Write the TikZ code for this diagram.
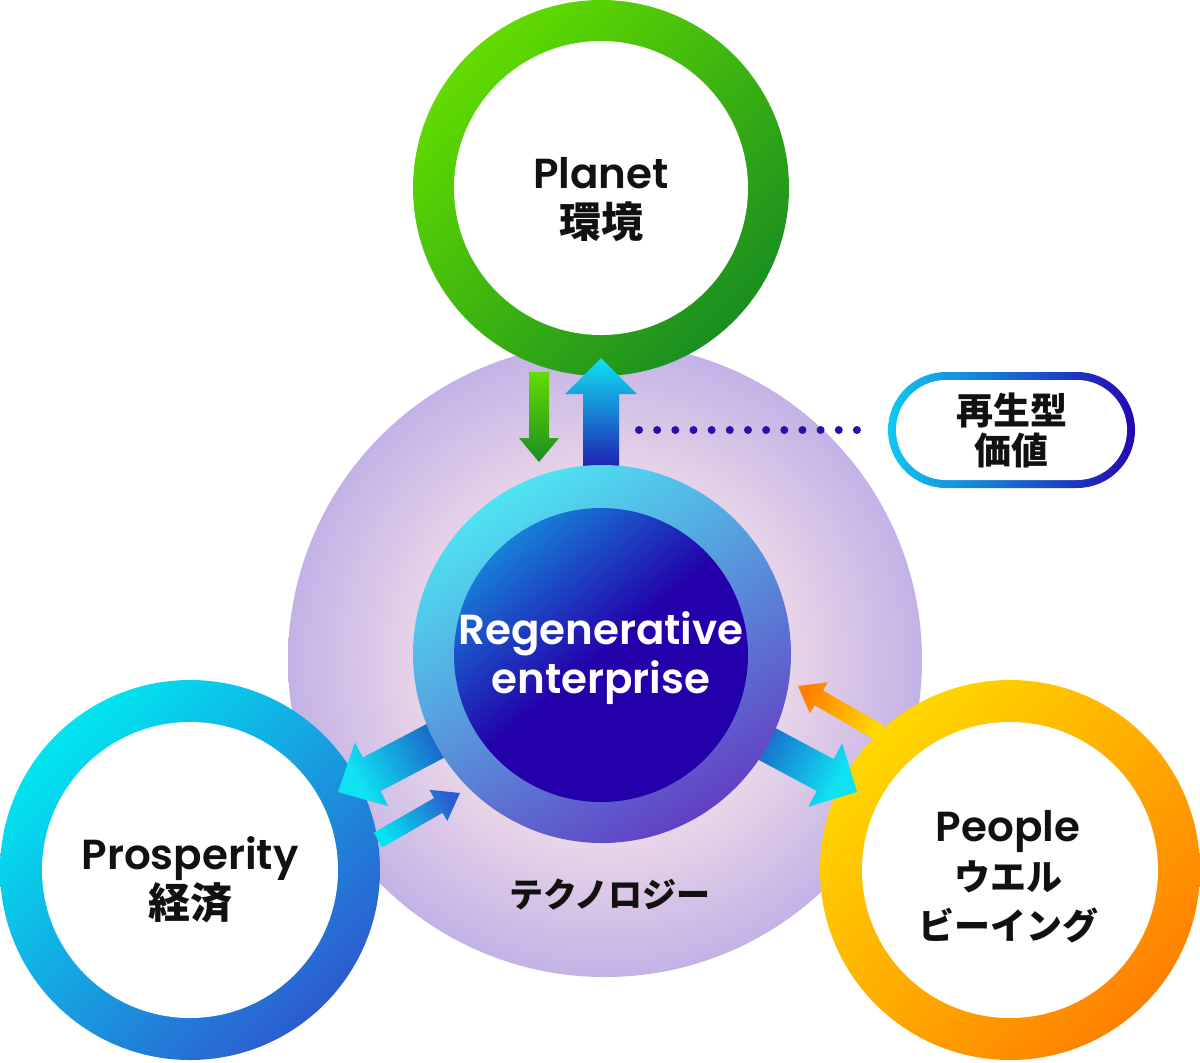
\documentclass[tikz,border=0pt]{standalone}
\usepackage{fontspec}
\setmainfont{Poppins}[BoldFont={Poppins SemiBold}]
\newfontfamily\cjk{Noto Sans CJK JP}
\usetikzlibrary{calc}
\definecolor{ink}{HTML}{111111}
\definecolor{bgin}{HTML}{F7E3EA}
\definecolor{bgmid}{HTML}{EEDAE8}
\definecolor{bgout}{HTML}{C3B2E6}
\definecolor{plA}{HTML}{62DC00}
\definecolor{plB}{HTML}{1A8E20}
\definecolor{prA}{HTML}{00E6F0}
\definecolor{prB}{HTML}{2C5CD0}
\definecolor{peA}{HTML}{FFD800}
\definecolor{peB}{HTML}{FF8000}
\definecolor{ceA}{HTML}{4EE4F2}
\definecolor{ceM}{HTML}{5C6CD0}
\definecolor{ceB}{HTML}{6240C4}
\definecolor{inA}{HTML}{1780D8}
\definecolor{inB}{HTML}{2300AA}
\definecolor{cyanA}{HTML}{10E2F2}
\definecolor{navy}{HTML}{2200A8}
\definecolor{dotc}{HTML}{2A10A8}
\definecolor{pillA}{HTML}{10C8F0}
\definecolor{pillB}{HTML}{2208B0}
\pgfdeclareradialshading{bgshade}{\pgfpoint{0bp}{0bp}}{color(0bp)=(bgin); color(13bp)=(bgmid); color(25bp)=(bgout); color(50bp)=(bgout)}
\newcommand\fatarrow[8]{%
  \path ($(#2)!#5!(#1)$) coordinate (hb);
  \shade[top color=#7, bottom color=#6, shading angle=#8]
    ($(#1)!#3!90:(#2)$) -- ($(hb)!#3!-90:(#1)$) -- ($(hb)!#4!-90:(#1)$) -- (#2)
    -- ($(hb)!#4!90:(#1)$) -- ($(hb)!#3!90:(#1)$) -- ($(#1)!#3!-90:(#2)$) -- cycle;
}
\tikzset{
  lbl/.style={font=\bfseries\fontsize{21pt}{24.5pt}\selectfont, text=ink, align=center, inner sep=0pt},
  wlbl/.style={lbl, text=white},
  pilltext/.style={font=\bfseries\fontsize{18.5pt}{20pt}\selectfont, text=ink, align=center, inner sep=0pt,
    minimum width=123.5pt, minimum height=58pt},
  techlbl/.style={font=\bfseries\fontsize{17pt}{20pt}\selectfont, text=ink, inner sep=0pt},
  dotline/.style={dotc, line width=4pt, line cap=round, dash pattern=on 0pt off 9.08pt},
  ringhole/.style={fill=white}
}
\newcommand\kanatext[1]{{\cjk\fontsize{18pt}{24.5pt}\selectfont #1}}
\begin{document}
\begin{tikzpicture}[x=0.5pt,y=-0.5pt]
\useasboundingbox (0,0) rectangle (1200,1062);
% background disc
\shade[shading=bgshade] (605,660) circle[radius=317];
% named centres
\coordinate (cPlanet) at (601,188);
\coordinate (cPros) at (190,870);
\coordinate (cPeople) at (1010,870);
\coordinate (cCore) at (602,654);
% green arrow (under ring)
\coordinate (gT) at (539,372);
\coordinate (gP) at (539,462);
\fatarrow{gT}{gP}{5pt}{10pt}{12pt}{plA}{plB}{180}
% rings
\shade[top color=plA, bottom color=plB, shading angle=45] (cPlanet) circle[radius=188];
\fill[ringhole] (cPlanet) circle[radius=147];
\shade[top color=prA, bottom color=prB, shading angle=45] (cPros) circle[radius=190];
\fill[ringhole] (cPros) circle[radius=148];
\shade[top color=peA, bottom color=peB, shading angle=45] (cPeople) circle[radius=190];
\fill[ringhole] (cPeople) circle[radius=148];
% arrows
\coordinate (uT) at (601,485);
\coordinate (uP) at (601,358);
\fatarrow{uT}{uP}{9pt}{18pt}{18pt}{navy}{cyanA}{0}
\coordinate (lbT) at (515,699);
\coordinate (lbP) at (338,792);
\fatarrow{lbT}{lbP}{9.5pt}{18pt}{19pt}{navy}{cyanA}{117.8}
\coordinate (rbT) at (681,698);
\coordinate (rbP) at (857,792);
\fatarrow{rbT}{rbP}{9pt}{18pt}{18pt}{navy}{cyanA}{-118}
\coordinate (lsT) at (378,840);
\coordinate (lsP) at (460,793);
\fatarrow{lsT}{lsP}{4.25pt}{9pt}{12.5pt}{prA}{prB}{-60.2}
\coordinate (osT) at (880,733);
\coordinate (osP) at (798,686);
\fatarrow{osT}{osP}{4.25pt}{9pt}{12pt}{peA}{peB}{60.2}
% core
\shade[top color=ceA, middle color=ceM, bottom color=ceB, shading angle=32] (cCore) circle[radius=189];
\shade[top color=inA, bottom color=inB, middle color=inB, shading angle=40] (601,655) circle[radius=147];
% labels
\node[lbl] (planet) at (601,200) {Planet\\{\cjk 環境}};
\node[wlbl] (core) at (601,658) {Regenerative\\enterprise};
\node[lbl] (pros) at (190,880) {Prosperity\\{\cjk 経済}};
\node[lbl] (people) at (1008,877) {People\\\kanatext{ウエル}\\\kanatext{ビーイング}};
\node[techlbl] (tech) at (610,895) {\cjk テクノロジー};
% pill
\shade[left color=pillA, right color=pillB, rounded corners=29pt] (888,372) rectangle (1135,488);
\fill[white, rounded corners=25pt] (896,380) rectangle (1127,480);
\node[pilltext] (pill) at (1011.5,430) {\cjk 再生型\\\cjk 価値};
\coordinate (dotStart) at (639,430);
\draw[dotline] (dotStart) -- ([xshift=-6.5pt]pill.west);
\end{tikzpicture}
\end{document}
